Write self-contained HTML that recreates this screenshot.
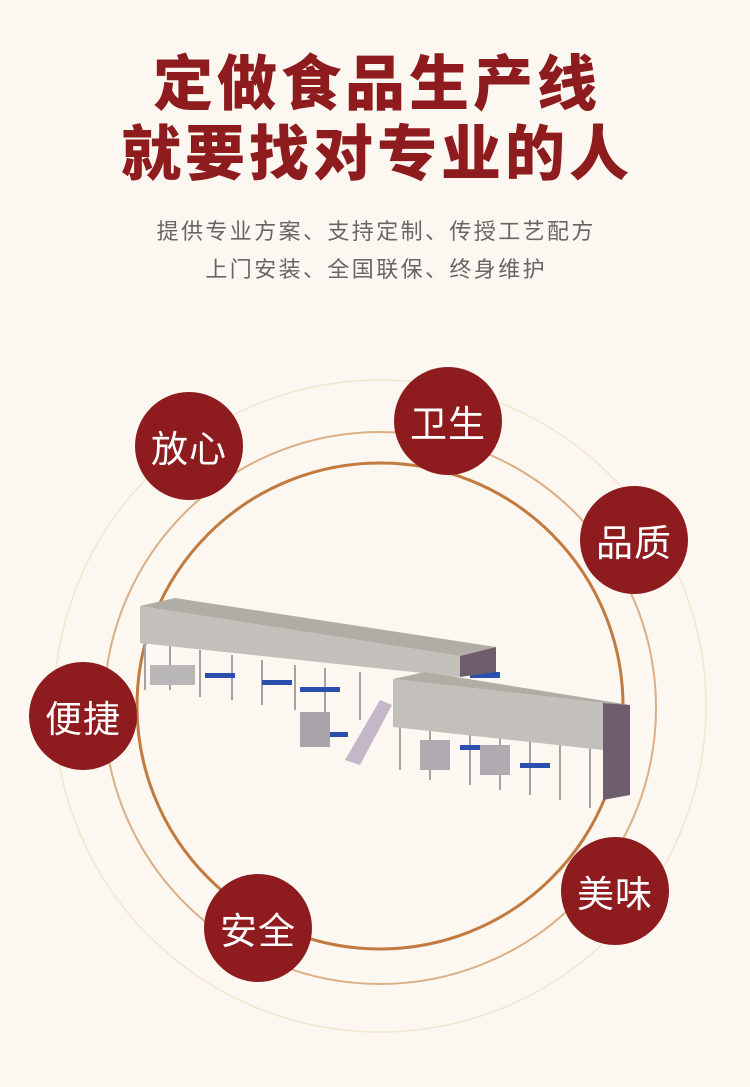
<!DOCTYPE html>
<html><head><meta charset="utf-8"><style>
html,body{margin:0;padding:0}
body{width:750px;height:1087px;background:#fcf7f0;position:relative;overflow:hidden;font-family:"Liberation Sans","Noto Sans CJK SC",sans-serif}
.t{position:absolute;left:0;width:750px;text-align:center;color:#8e1b1d;font-weight:900;font-size:60px;letter-spacing:4px;text-indent:4px;line-height:1}
.s{position:absolute;left:0;width:750px;text-align:center;color:#666;font-size:22px;letter-spacing:2.4px;text-indent:2.4px;line-height:1}
.b{position:absolute;width:108px;height:108px;border-radius:50%;background:#8e1b1d;color:#fff;font-size:37px;display:flex;align-items:center;justify-content:center;letter-spacing:1px}
</style></head><body>
<div class="t" style="top:55px">定做食品生产线</div>
<div class="t" style="top:125px">就要找对专业的人</div>
<div class="s" style="top:221px">提供专业方案、支持定制、传授工艺配方</div>
<div class="s" style="top:259px">上门安装、全国联保、终身维护</div>
<svg width="750" height="1087" style="position:absolute;left:0;top:0">
<circle cx="380" cy="706" r="326" fill="none" stroke="#f3e6cf" stroke-width="1.5"/>
<circle cx="380" cy="708" r="276" fill="none" stroke="#dcae84" stroke-width="2"/>
<circle cx="380" cy="706" r="243" fill="none" stroke="#c27a3f" stroke-width="3"/>
<g stroke="#a9a0a6" stroke-width="2">
<line x1="145" y1="640" x2="145" y2="690"/><line x1="170" y1="645" x2="170" y2="690"/><line x1="200" y1="650" x2="200" y2="697"/><line x1="232" y1="655" x2="232" y2="700"/><line x1="262" y1="660" x2="262" y2="705"/><line x1="295" y1="665" x2="295" y2="710"/><line x1="325" y1="668" x2="325" y2="715"/><line x1="360" y1="672" x2="360" y2="720"/><line x1="400" y1="720" x2="400" y2="770"/><line x1="430" y1="725" x2="430" y2="780"/><line x1="470" y1="730" x2="470" y2="785"/><line x1="500" y1="735" x2="500" y2="790"/><line x1="530" y1="740" x2="530" y2="795"/><line x1="560" y1="745" x2="560" y2="800"/><line x1="590" y1="748" x2="590" y2="808"/>
</g>
<g fill="#2a4fae">
<rect x="205" y="673" width="30" height="5"/><rect x="262" y="680" width="30" height="5"/><rect x="300" y="687" width="40" height="5"/><rect x="460" y="745" width="25" height="5"/><rect x="520" y="763" width="30" height="5"/><rect x="318" y="732" width="30" height="5"/><rect x="600" y="732" width="30" height="5"/><rect x="470" y="672" width="30" height="6"/>
</g>
<rect x="150" y="665" width="45" height="20" fill="#b9b6b8"/>
<rect x="300" y="712" width="30" height="35" fill="#a9a4aa"/>
<polygon points="345,760 380,700 392,705 360,765" fill="#c4b8c8"/>
<rect x="420" y="740" width="30" height="30" fill="#b0a9b0"/>
<rect x="480" y="745" width="30" height="30" fill="#b0a9b0"/>
<polygon points="140,606 175,598 496,647 460,656" fill="#b0aca6"/>
<polygon points="140,606 460,656 460,677 140,643" fill="#c3bfbb"/>
<polygon points="460,656 496,647 496,672 460,677" fill="#6e5e6d"/>
<polygon points="393,679 425,672 630,705 603,703" fill="#b0aca6"/>
<polygon points="393,679 603,703 603,750 393,727" fill="#c3bfbb"/>
<polygon points="603,703 630,705 630,795 603,800" fill="#6e5e6d"/>
</svg>
<div class="b" style="left:135px;top:392px">放心</div>
<div class="b" style="left:394px;top:367px">卫生</div>
<div class="b" style="left:580px;top:486px">品质</div>
<div class="b" style="left:29px;top:662px">便捷</div>
<div class="b" style="left:561px;top:837px">美味</div>
<div class="b" style="left:204px;top:874px">安全</div>
</body></html>
